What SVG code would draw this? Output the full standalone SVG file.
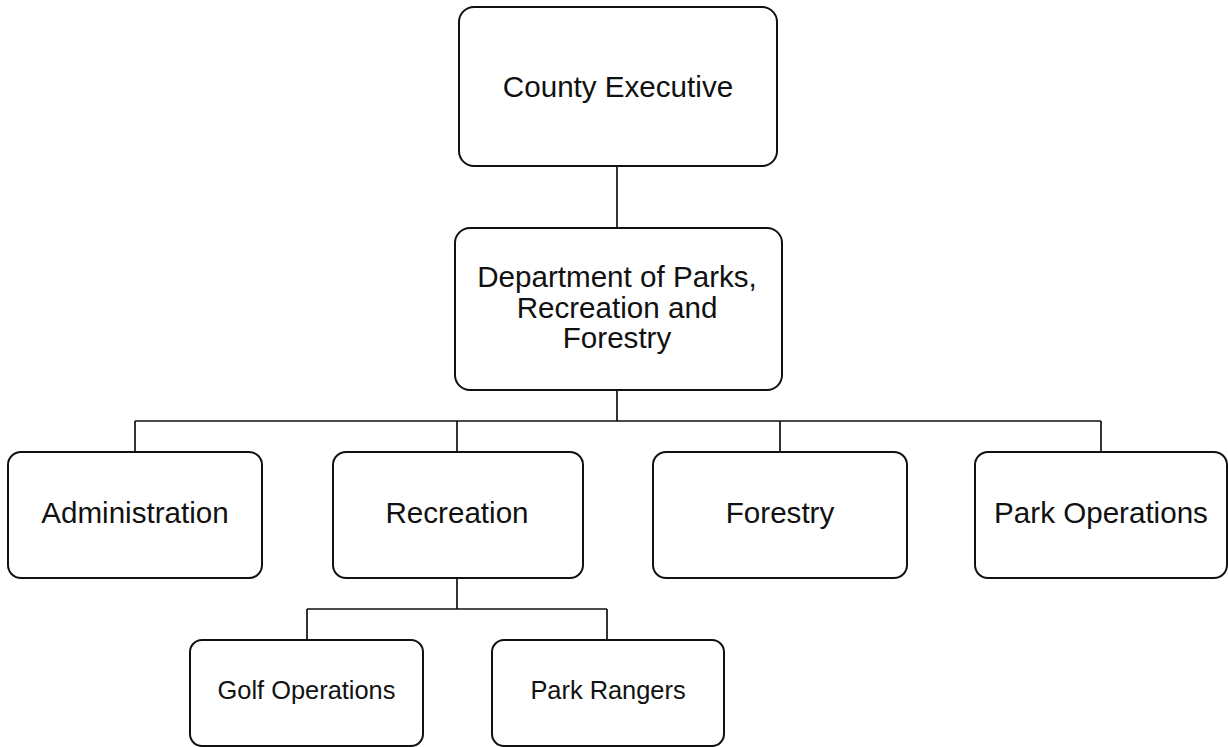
<svg xmlns="http://www.w3.org/2000/svg" width="1228" height="747" viewBox="0 0 1228 747">
  <style>
    .box { fill: #ffffff; stroke: #111111; stroke-width: 2; }
    .lbl { font-family: "Liberation Sans", Arial, sans-serif; font-size: 29.6px; fill: #111111; text-anchor: middle; }
    .sm { font-size: 25.4px; }
    .wire { fill: none; stroke: #111111; stroke-width: 1.7; }
  </style>
  <rect width="1228" height="747" fill="#ffffff"/>

  <!-- reporting lines -->
  <g id="connectors">
    <path class="wire" d="M617 166 V228"/>
    <path class="wire" d="M617 390 V421 M135 421 H1101 M135 421 V452 M457 421 V452 M780 421 V452 M1101 421 V452"/>
    <path class="wire" d="M457 578 V609 M307 609 H607 M307 609 V640 M607 609 V640"/>
  </g>

  <g id="county-executive">
    <rect class="box" x="459" y="7" width="318" height="159" rx="15"/>
    <text class="lbl" x="618" y="97">County Executive</text>
  </g>

  <g id="parks-department">
    <rect class="box" x="455" y="228" width="327" height="162" rx="15"/>
    <text class="lbl" x="617" y="287">Department of Parks,</text>
    <text class="lbl" x="617" y="317.5">Recreation and</text>
    <text class="lbl" x="617" y="348">Forestry</text>
  </g>

  <g id="administration">
    <rect class="box" x="8" y="452" width="254" height="126" rx="13"/>
    <text class="lbl" x="135" y="523">Administration</text>
  </g>

  <g id="recreation">
    <rect class="box" x="333" y="452" width="250" height="126" rx="13"/>
    <text class="lbl" x="457" y="523">Recreation</text>
  </g>

  <g id="forestry">
    <rect class="box" x="653" y="452" width="254" height="126" rx="13"/>
    <text class="lbl" x="780" y="523">Forestry</text>
  </g>

  <g id="park-operations">
    <rect class="box" x="975" y="452" width="252" height="126" rx="13"/>
    <text class="lbl" x="1101" y="523">Park Operations</text>
  </g>

  <g id="golf-operations">
    <rect class="box" x="190" y="640" width="233" height="106" rx="12"/>
    <text class="lbl sm" x="306.5" y="699">Golf Operations</text>
  </g>

  <g id="park-rangers">
    <rect class="box" x="492" y="640" width="232" height="106" rx="12"/>
    <text class="lbl sm" x="608" y="699">Park Rangers</text>
  </g>
</svg>
